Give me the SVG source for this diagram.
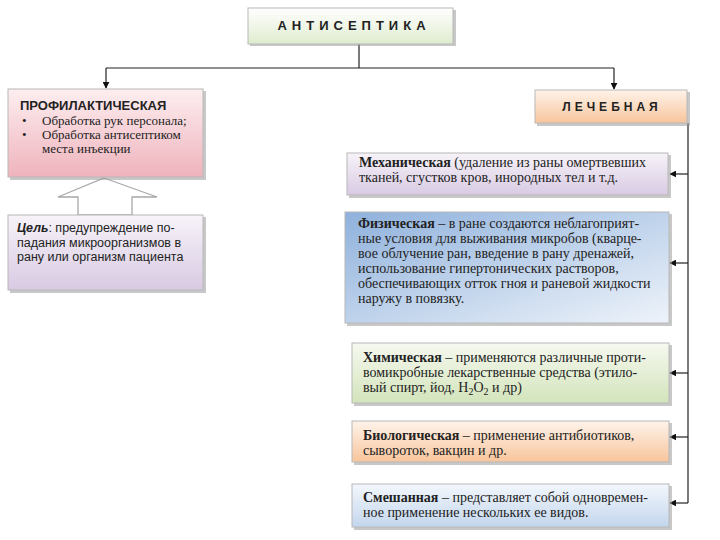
<svg xmlns="http://www.w3.org/2000/svg" width="720" height="540" viewBox="0 0 720 540">
<defs>
<linearGradient id="gGreen" x1="0" y1="0" x2="0" y2="1"><stop offset="0" stop-color="#ffffff"/><stop offset="1" stop-color="#dfeccf"/></linearGradient>
<linearGradient id="gPink" x1="0" y1="0" x2="0" y2="1"><stop offset="0" stop-color="#fdeef0"/><stop offset="1" stop-color="#efb3bc"/></linearGradient>
<linearGradient id="gLav" x1="0" y1="0" x2="0" y2="1"><stop offset="0" stop-color="#f7f3f9"/><stop offset="1" stop-color="#d8cae3"/></linearGradient>
<linearGradient id="gOrange" x1="0" y1="0" x2="0" y2="1"><stop offset="0" stop-color="#fef3ea"/><stop offset="1" stop-color="#f8c59c"/></linearGradient>
<linearGradient id="gBlue" x1="0" y1="0" x2="1" y2="1"><stop offset="0" stop-color="#8fb1dc"/><stop offset="0.6" stop-color="#c8d9ee"/><stop offset="1" stop-color="#eef3fa"/></linearGradient>
<linearGradient id="gLGreen" x1="0" y1="0" x2="0" y2="1"><stop offset="0" stop-color="#f6f9f0"/><stop offset="1" stop-color="#d3e4bb"/></linearGradient>
<linearGradient id="gLBlue" x1="0" y1="0" x2="0" y2="1"><stop offset="0" stop-color="#f3f7fc"/><stop offset="1" stop-color="#c3d6ed"/></linearGradient>
<marker id="arr" viewBox="0 0 10 10" refX="9" refY="5" markerWidth="7" markerHeight="7" markerUnits="userSpaceOnUse" orient="auto"><path d="M0,0 L10,5 L0,10 z" fill="#111"/></marker>
</defs>
<style>
.box{stroke:#b8b8b8;stroke-width:1}
.sh{fill:#9a9a9a;opacity:0.55}
.cap{font-family:"Liberation Sans",Arial,sans-serif;font-weight:bold;fill:#222}
.sans{font-family:"Liberation Sans",Arial,sans-serif;font-size:12.5px;fill:#222}
.ser{font-family:"Liberation Serif","Times New Roman",serif;font-size:14px;fill:#222}
.sser{font-family:"Liberation Serif","Times New Roman",serif;font-size:13px;fill:#222}
.b{font-weight:bold}
.ln{fill:none;stroke:#222;stroke-width:1.2}
</style>
<rect width="720" height="540" fill="#ffffff"/>

<g id="connectors">
<path class="ln" d="M359,44 V68"/>
<path class="ln" d="M106,68 H614"/>
<path class="ln" d="M106,68 V88" marker-end="url(#arr)"/>
<path class="ln" d="M614,68 V89" marker-end="url(#arr)"/>
<path class="ln" d="M688,123 V503"/>
<path class="ln" d="M688,174 H670" marker-end="url(#arr)"/>
<path class="ln" d="M688,263 H670" marker-end="url(#arr)"/>
<path class="ln" d="M688,373 H670" marker-end="url(#arr)"/>
<path class="ln" d="M688,437 H670" marker-end="url(#arr)"/>
<path class="ln" d="M688,503 H670" marker-end="url(#arr)"/>
<path d="M104,178 L157,197 L132,197 L132,215 L78,215 L78,197 L58,197 Z" fill="#ffffff" stroke="#a8a8a8" stroke-width="1.3"/>
</g>

<g id="antiseptika">
<rect class="sh" x="250" y="10" width="206" height="36"/>
<rect class="box" x="248" y="8" width="205" height="36" fill="url(#gGreen)"/>
<text class="cap" x="354" y="30" font-size="13" letter-spacing="5" text-anchor="middle">АНТИСЕПТИКА</text>
</g>

<g id="profilakticheskaya">
<rect class="sh" x="10" y="91" width="196" height="89"/>
<rect class="box" x="8" y="89" width="195" height="88" fill="url(#gPink)"/>
<text class="cap" x="20" y="110" font-size="13">ПРОФИЛАКТИЧЕСКАЯ</text>
<text class="sser" x="22" y="125">•</text>
<text class="sser" x="42" y="125">Обработка рук персонала;</text>
<text class="sser" x="22" y="139">•</text>
<text class="sser" x="42" y="139">Обработка антисептиком</text>
<text class="sser" x="42" y="153">места инъекции</text>
</g>

<g id="cel">
<rect class="sh" x="10" y="217" width="196" height="76"/>
<rect class="box" x="8" y="215" width="195" height="75" fill="url(#gLav)"/>
<text class="sans" x="17" y="232"><tspan font-weight="bold" font-style="italic">Цель</tspan>: предупреждение по-</text>
<text class="sans" x="17" y="247">падания микроорганизмов в</text>
<text class="sans" x="17" y="261">рану или организм пациента</text>
</g>

<g id="lechebnaya">
<rect class="sh" x="537" y="92" width="153" height="34"/>
<rect class="box" x="535" y="90" width="152" height="33" fill="url(#gOrange)"/>
<text class="cap" x="612" y="111" font-size="12" letter-spacing="4" text-anchor="middle">ЛЕЧЕБНАЯ</text>
</g>

<g id="mehanicheskaya">
<rect class="sh" x="349" y="155" width="322" height="43"/>
<rect class="box" x="347" y="153" width="321" height="42" fill="url(#gLav)"/>
<text class="ser" x="359" y="167"><tspan class="b">Механическая</tspan> (удаление из раны омертвевших</text>
<text class="ser" x="359" y="182">тканей, сгустков кров, инородных тел и т.д.</text>
</g>

<g id="fizicheskaya">
<rect class="sh" x="347" y="214" width="325" height="112"/>
<rect class="box" x="345" y="212" width="324" height="111" fill="url(#gBlue)"/>
<text class="ser" x="358" y="228"><tspan class="b">Физическая</tspan> – в ране создаются неблагоприят-</text>
<text class="ser" x="358" y="243">ные условия для выживания микробов (кварце-</text>
<text class="ser" x="358" y="258">вое облучение ран, введение в рану дренажей,</text>
<text class="ser" x="358" y="273">использование гипертонических растворов,</text>
<text class="ser" x="358" y="288">обеспечивающих отток гноя и раневой жидкости</text>
<text class="ser" x="358" y="303">наружу в повязку.</text>
</g>

<g id="himicheskaya">
<rect class="sh" x="354" y="345" width="318" height="61"/>
<rect class="box" x="352" y="343" width="317" height="60" fill="url(#gLGreen)"/>
<text class="ser" x="363" y="362"><tspan class="b">Химическая</tspan> – применяются различные проти-</text>
<text class="ser" x="363" y="377">вомикробные лекарственные средства (этило-</text>
<text class="ser" x="363" y="392">вый спирт, йод, H<tspan font-size="10" dy="3">2</tspan><tspan dy="-3">O</tspan><tspan font-size="10" dy="3">2</tspan><tspan dy="-3"> и др)</tspan></text>
</g>

<g id="biologicheskaya">
<rect class="sh" x="354" y="423" width="318" height="42"/>
<rect class="box" x="352" y="421" width="317" height="41" fill="url(#gOrange)"/>
<text class="ser" x="363" y="440"><tspan class="b">Биологическая</tspan> – применение антибиотиков,</text>
<text class="ser" x="363" y="455">сывороток, вакцин и др.</text>
</g>

<g id="smeshannaya">
<rect class="sh" x="354" y="486" width="318" height="44"/>
<rect class="box" x="352" y="484" width="317" height="43" fill="url(#gLBlue)"/>
<text class="ser" x="363" y="502"><tspan class="b">Смешанная</tspan> – представляет собой одновремен-</text>
<text class="ser" x="363" y="517">ное применение нескольких ее видов.</text>
</g>
</svg>
